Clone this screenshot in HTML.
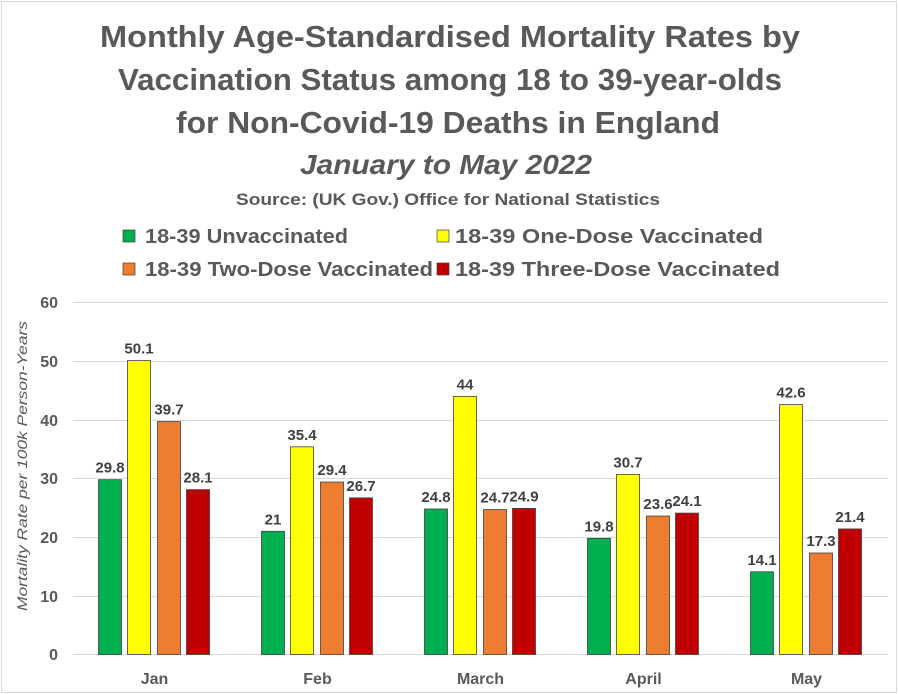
<!DOCTYPE html>
<html><head><meta charset="utf-8"><style>
html,body{margin:0;padding:0;background:#fff}
svg{display:block}
text{font-family:"Liberation Sans",sans-serif;fill:#595959}
</style></head><body>
<svg width="898" height="694" viewBox="0 0 898 694" xmlns="http://www.w3.org/2000/svg">
<rect x="1.5" y="1.5" width="895" height="691" fill="#fff" stroke="#d9d9d9"/>
<g font-weight="bold" font-size="31" text-anchor="middle">
<text x="450" y="47" textLength="700" lengthAdjust="spacingAndGlyphs">Monthly Age-Standardised Mortality Rates by</text>
<text x="450" y="90" textLength="664" lengthAdjust="spacingAndGlyphs">Vaccination Status among 18 to 39-year-olds</text>
<text x="448" y="133" textLength="544" lengthAdjust="spacingAndGlyphs">for Non-Covid-19 Deaths in England</text>
<text x="446" y="174" font-style="italic" font-size="28" textLength="292" lengthAdjust="spacingAndGlyphs">January to May 2022</text>
<text x="448" y="205" font-size="17" textLength="424" lengthAdjust="spacingAndGlyphs">Source: (UK Gov.) Office for National Statistics</text>
</g>
<g font-size="20" font-weight="bold">
<rect x="123" y="230" width="12" height="12" fill="#00b050" stroke="#404040" stroke-width="0.7"/>
<text x="145" y="243" textLength="203" lengthAdjust="spacingAndGlyphs">18-39 Unvaccinated</text>
<rect x="437" y="230" width="12" height="12" fill="#ffff00" stroke="#404040" stroke-width="0.7"/>
<text x="455" y="243" textLength="308" lengthAdjust="spacingAndGlyphs">18-39 One-Dose Vaccinated</text>
<rect x="123" y="263" width="12" height="12" fill="#ed7d31" stroke="#404040" stroke-width="0.7"/>
<text x="145" y="276" textLength="288" lengthAdjust="spacingAndGlyphs">18-39 Two-Dose Vaccinated</text>
<rect x="437" y="263" width="12" height="12" fill="#c00000" stroke="#404040" stroke-width="0.7"/>
<text x="455" y="276" textLength="325" lengthAdjust="spacingAndGlyphs">18-39 Three-Dose Vaccinated</text>
</g>
<g stroke="#d9d9d9" stroke-width="1">
<line x1="73" x2="888" y1="302.5" y2="302.5"/>
<line x1="73" x2="888" y1="361.5" y2="361.5"/>
<line x1="73" x2="888" y1="420.5" y2="420.5"/>
<line x1="73" x2="888" y1="478.5" y2="478.5"/>
<line x1="73" x2="888" y1="537.5" y2="537.5"/>
<line x1="73" x2="888" y1="596.5" y2="596.5"/>
<line x1="73" x2="888" y1="654.5" y2="654.5"/>
</g>
<g font-size="16" font-weight="bold" text-anchor="end">
<text x="58" y="308">60</text><text x="58" y="367">50</text><text x="58" y="426">40</text>
<text x="58" y="484">30</text><text x="58" y="543">20</text><text x="58" y="602">10</text><text x="58" y="660">0</text>
</g>
<text transform="translate(27,466) rotate(-90)" text-anchor="middle" font-size="14" font-style="italic" textLength="290" lengthAdjust="spacingAndGlyphs">Mortality Rate per 100k Person-Years</text>
<g id="bars" stroke="#404040" stroke-width="0.8"></g>
<g id="labels" font-size="15" font-weight="bold" text-anchor="middle" style="fill:#404040"></g>
<g id="xl" font-size="16" font-weight="bold" text-anchor="middle"></g>
<script>
var d=[[29.8,50.1,39.7,28.1],[21,35.4,29.4,26.7],[24.8,44,24.7,24.9],[19.8,30.7,23.6,24.1],[14.1,42.6,17.3,21.4]];
var n=["Jan","Feb","March","April","May"],c=["#00b050","#ffff00","#ed7d31","#c00000"],off=[-56,-27,3,32];
var ns="http://www.w3.org/2000/svg",b=document.getElementById("bars"),l=document.getElementById("labels"),x=document.getElementById("xl");
function el(t,a,p,tx){var e=document.createElementNS(ns,t);for(var k in a)e.setAttribute(k,a[k]);if(tx!=null)e.textContent=tx;p.appendChild(e);}
for(var i=0;i<5;i++){var cx=73+163*(i+0.5);
el("text",{x:cx,y:684},x,n[i]);
for(var j=0;j<4;j++){var v=d[i][j],h=v*352/60,y=654.5-h,bx=cx+off[j];
el("rect",{x:bx,y:y,width:23,height:h,fill:c[j]},b);
el("text",{x:bx+11.5,y:y-7,style:"fill:#404040"},l,String(v));}}
</script>
</svg>
</body></html>
